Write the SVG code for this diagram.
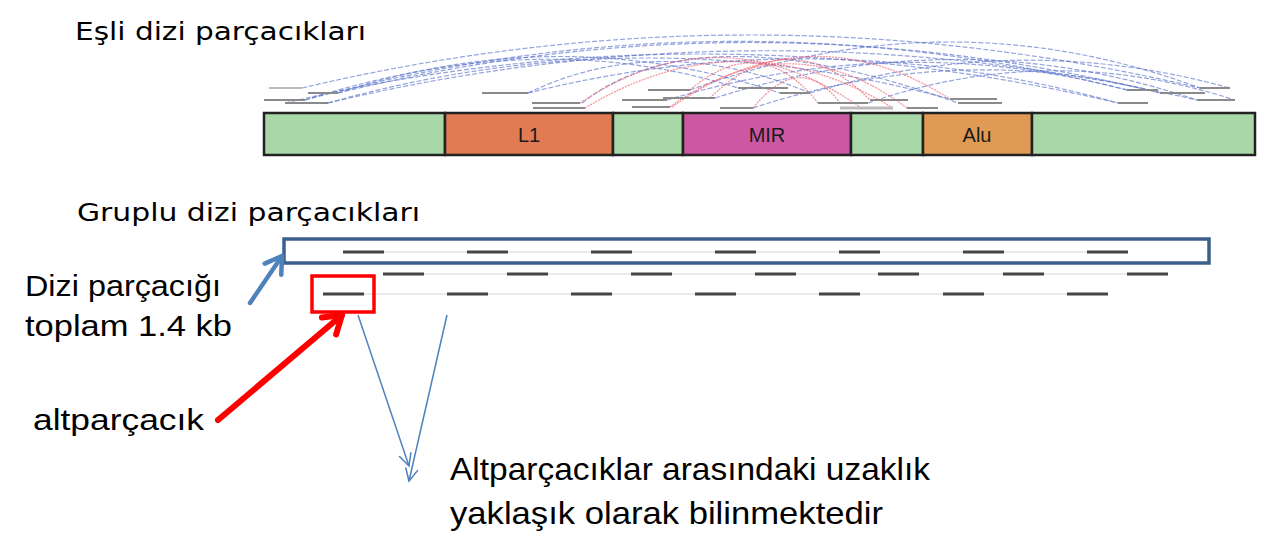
<svg xmlns="http://www.w3.org/2000/svg" width="1272" height="546" viewBox="0 0 1272 546">
<style>
.t{font-family:"Liberation Sans",Arial,sans-serif;fill:#000}
.h{font-family:"DejaVu Sans",Verdana,sans-serif;fill:#000;font-size:25px}
.seg{stroke:#222;stroke-width:2.5}
.lab{font-family:"Liberation Sans",Arial,sans-serif;font-size:20px;fill:#1a1a1a;text-anchor:middle}
.read{stroke:#8a8a8a;stroke-width:2}
.ba{fill:none;stroke:#5b73c9;stroke-width:1.2;stroke-dasharray:5 2;opacity:.65}
.ra{fill:none;stroke:#f0606e;stroke-width:1.2;stroke-dasharray:2 1;opacity:.7}
.guide{stroke:#e2e2e8;stroke-width:1.5}
.dash{stroke:#444;stroke-width:3}
</style>
<defs>
<marker id="mb" markerUnits="userSpaceOnUse" markerWidth="30" markerHeight="30" refX="20" refY="15" orient="auto" overflow="visible">
<path d="M4,5 L20,15 L4,25" fill="none" stroke="#4f81bd" stroke-width="4.5" stroke-linecap="round" stroke-linejoin="round"/>
</marker>
<marker id="mr" markerUnits="userSpaceOnUse" markerWidth="30" markerHeight="30" refX="20" refY="15" orient="auto" overflow="visible">
<path d="M3,4 L20,15 L3,26" fill="none" stroke="#ff0000" stroke-width="6" stroke-linecap="round" stroke-linejoin="round"/>
</marker>
<marker id="mt" markerUnits="userSpaceOnUse" markerWidth="30" markerHeight="30" refX="20" refY="15" orient="auto" overflow="visible">
<path d="M8,9 L20,15 L8,21" fill="none" stroke="#4f81bd" stroke-width="1.5" stroke-linecap="round"/>
</marker>
</defs>
<rect width="1272" height="546" fill="#fff"/>

<g id="titles">
<text class="h" x="75" y="40" textLength="291" lengthAdjust="spacingAndGlyphs">Eşli dizi parçacıkları</text>
<text class="h" x="77" y="221" textLength="343" lengthAdjust="spacingAndGlyphs">Gruplu dizi parçacıkları</text>
</g>

<g id="arcs">
<path class="ba" d="M302,88 Q750,-18 1200,88"/>
<path class="ba" d="M338,93 Q750,-8 1160,93"/>
<path class="ba" d="M305,100 Q720,-12 1127,90"/>
<path class="ba" d="M328,103 Q760,0 1197,100"/>
<path class="ba" d="M285,103 Q700,5 1118,103"/>
<path class="ba" d="M328,103 Q640,15 950,99"/>
<path class="ba" d="M528,93 Q820,20 1118,103"/>
<path class="ba" d="M690,90 Q950,-5 1200,88"/>
<path class="ba" d="M715,98 Q960,20 1197,100"/>
<path class="ba" d="M338,93 Q560,20 780,93"/>
<path class="ba" d="M305,100 Q540,25 738,88"/>
<path class="ba" d="M667,100 Q900,30 1127,90"/>
<path class="ba" d="M753,108 Q960,40 1160,93"/>
<path class="ba" d="M810,93 Q1020,30 1230,88"/>
<path class="ba" d="M528,93 Q660,30 810,93"/>
<path class="ba" d="M868,103 Q1050,40 1235,100"/>
<path class="ba" d="M582,103 Q700,10 958,103"/>
<path class="ra" d="M580,103 Q720,10 860,107"/>
<path class="ra" d="M585,108 Q740,15 893,108"/>
<path class="ra" d="M670,107 Q790,20 907,108"/>
<path class="ra" d="M672,107 Q810,10 950,99"/>
<path class="ra" d="M753,108 Q800,50 840,103"/>
<path class="ra" d="M690,90 Q760,30 818,103"/>
<path class="ra" d="M710,98 Q790,20 870,100"/>
</g>

<g id="reads">
<line x1="269" y1="88" x2="302" y2="88" stroke="#bbb" stroke-width="2"/>
<line class="read" x1="308" y1="93" x2="338" y2="93"/>
<line class="read" x1="264" y1="100" x2="305" y2="100"/>
<line class="read" x1="285" y1="103" x2="328" y2="103"/>
<line class="read" x1="482" y1="93" x2="528" y2="93"/>
<line class="read" x1="532" y1="103" x2="580" y2="103"/>
<line class="read" x1="533" y1="108" x2="585" y2="108"/>
<line class="read" x1="648" y1="90" x2="690" y2="90"/>
<line class="read" x1="622" y1="100" x2="667" y2="100"/>
<line class="read" x1="663" y1="98" x2="715" y2="98"/>
<line class="read" x1="632" y1="107" x2="670" y2="107"/>
<line class="read" x1="720" y1="108" x2="753" y2="108"/>
<line class="read" x1="738" y1="88" x2="788" y2="88"/>
<line class="read" x1="780" y1="93" x2="810" y2="93"/>
<line class="read" x1="818" y1="103" x2="868" y2="103"/>
<line x1="840" y1="108" x2="893" y2="108" stroke="#bbb" stroke-width="3"/>
<line class="read" x1="870" y1="100" x2="908" y2="100"/>
<line class="read" x1="907" y1="108" x2="938" y2="108"/>
<line class="read" x1="950" y1="99" x2="997" y2="99"/>
<line class="read" x1="958" y1="103" x2="1002" y2="103"/>
<line class="read" x1="1127" y1="90" x2="1158" y2="90"/>
<line class="read" x1="1160" y1="93" x2="1205" y2="93"/>
<line class="read" x1="1118" y1="103" x2="1148" y2="103"/>
<line class="read" x1="1200" y1="88" x2="1230" y2="88"/>
<line class="read" x1="1197" y1="100" x2="1235" y2="100"/>
</g>

<g id="genome-bar">
<rect class="seg" x="264" y="113" width="181" height="42" fill="#a9d8a8"/>
<rect class="seg" x="445" y="113" width="168" height="42" fill="#e07b53"/>
<rect class="seg" x="613" y="113" width="70" height="42" fill="#a9d8a8"/>
<rect class="seg" x="683" y="113" width="168" height="42" fill="#cc57a2"/>
<rect class="seg" x="851" y="113" width="72" height="42" fill="#a9d8a8"/>
<rect class="seg" x="923" y="113" width="109" height="42" fill="#e09a53"/>
<rect class="seg" x="1032" y="113" width="223" height="42" fill="#a9d8a8"/>
<text class="lab" x="529" y="142">L1</text>
<text class="lab" x="767" y="142">MIR</text>
<text class="lab" x="977" y="142">Alu</text>
</g>

<g id="grouped-rows">
<line class="guide" x1="343" y1="252" x2="1127" y2="252"/>
<line class="guide" x1="383" y1="274" x2="1167" y2="274"/>
<line class="guide" x1="323" y1="294" x2="1108" y2="294"/>
<path class="dash" d="M343,252h41M467,252h41M591,252h41M715,252h41M839,252h41M963,252h41M1087,252h41"/>
<path class="dash" d="M383,274h41M507,274h41M631,274h41M755,274h41M878,274h41M1003,274h41M1127,274h41"/>
<path class="dash" d="M323,294h41M447,294h41M571,294h41M695,294h41M819,294h41M943,294h41M1067,294h41"/>
</g>

<g id="fragment-box">
<rect x="284" y="239" width="925" height="24" fill="none" stroke="#3c5f8c" stroke-width="3.5"/>
</g>

<g id="subfragment-box">
<rect x="312" y="276" width="62" height="36" fill="none" stroke="#ff0000" stroke-width="3.5"/>
</g>

<g id="label-fragment">
<text class="t" x="25" y="296" font-size="30" textLength="196" lengthAdjust="spacingAndGlyphs">Dizi parçacığı</text>
<text class="t" x="25" y="336" font-size="30" textLength="207" lengthAdjust="spacingAndGlyphs">toplam 1.4 kb</text>
</g>

<g id="label-sub">
<text class="t" x="33" y="430" font-size="30" textLength="171" lengthAdjust="spacingAndGlyphs">altparçacık</text>
</g>

<g id="label-distance">
<text class="t" x="450" y="480" font-size="32" textLength="480" lengthAdjust="spacingAndGlyphs">Altparçacıklar arasındaki uzaklık</text>
<text class="t" x="450" y="524" font-size="32" textLength="433" lengthAdjust="spacingAndGlyphs">yaklaşık olarak bilinmektedir</text>
</g>

<g id="connectors">
<line x1="250" y1="303" x2="282" y2="256" stroke="#4f81bd" stroke-width="4.5" stroke-linecap="round" marker-end="url(#mb)"/>
<line x1="218" y1="420" x2="342" y2="315" stroke="#ff0000" stroke-width="6" stroke-linecap="round" marker-end="url(#mr)"/>
<line x1="358" y1="315" x2="409" y2="466" stroke="#4f81bd" stroke-width="1.5" marker-end="url(#mt)"/>
<line x1="447" y1="315" x2="409" y2="481" stroke="#4f81bd" stroke-width="1.5" marker-end="url(#mt)"/>
</g>
</svg>
